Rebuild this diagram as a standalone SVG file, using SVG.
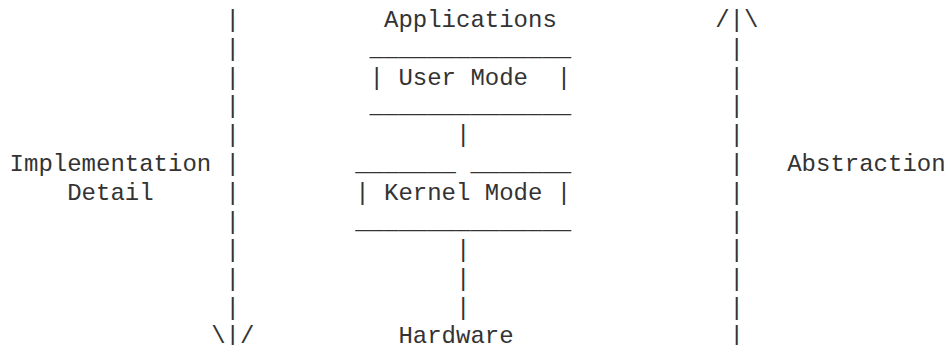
<svg xmlns="http://www.w3.org/2000/svg" width="949" height="345" viewBox="0 0 949 345">
<style>
text { font-family: "Liberation Mono", "Courier New", monospace; font-size: 24px; fill: #333; white-space: pre; }
</style>
<rect width="949" height="345" fill="#fff"/>
<g id="connectors">
  <g id="left-axis">
    <text x="225.6" y="27">|</text>
    <text x="225.6" y="55.8">|</text>
    <text x="225.6" y="84.6">|</text>
    <text x="225.6" y="113.4">|</text>
    <text x="225.6" y="142.2">|</text>
    <text x="225.6" y="171">|</text>
    <text x="225.6" y="199.8">|</text>
    <text x="225.6" y="228.6">|</text>
    <text x="225.6" y="257.4">|</text>
    <text x="225.6" y="286.2">|</text>
    <text x="225.6" y="315">|</text>
    <text x="211.2" y="343.4">\|/</text>
  </g>
  <g id="right-axis">
    <text x="715.2" y="27">/|\</text>
    <text x="729.6" y="55.8">|</text>
    <text x="729.6" y="84.6">|</text>
    <text x="729.6" y="113.4">|</text>
    <text x="729.6" y="142.2">|</text>
    <text x="729.6" y="171">|</text>
    <text x="729.6" y="199.8">|</text>
    <text x="729.6" y="228.6">|</text>
    <text x="729.6" y="257.4">|</text>
    <text x="729.6" y="286.2">|</text>
    <text x="729.6" y="315">|</text>
    <text x="729.6" y="343.4">|</text>
  </g>
  <g id="user-to-kernel">
    <text x="456" y="142.2">|</text>
  </g>
  <g id="kernel-to-hardware">
    <text x="456" y="257.4">|</text>
    <text x="456" y="286.2">|</text>
    <text x="456" y="315">|</text>
  </g>
</g>
<g id="applications">
  <text x="384" y="27">Applications</text>
</g>
<g id="user-mode">
  <text x="369.6" y="55.8">______________</text>
  <text x="369.6" y="84.6" xml:space="preserve">| User Mode  |</text>
  <text x="369.6" y="113.4">______________</text>
</g>
<g id="kernel-mode">
  <text x="355.2" y="171" xml:space="preserve">_______ _______</text>
  <text x="355.2" y="199.8" xml:space="preserve">| Kernel Mode |</text>
  <text x="355.2" y="228.6">_______________</text>
</g>
<g id="hardware">
  <text x="398.4" y="343.4">Hardware</text>
</g>
<g id="implementation-detail">
  <text x="9.6" y="171">Implementation</text>
  <text x="67.2" y="199.8">Detail</text>
</g>
<g id="abstraction">
  <text x="787.2" y="171">Abstraction</text>
</g>
</svg>
